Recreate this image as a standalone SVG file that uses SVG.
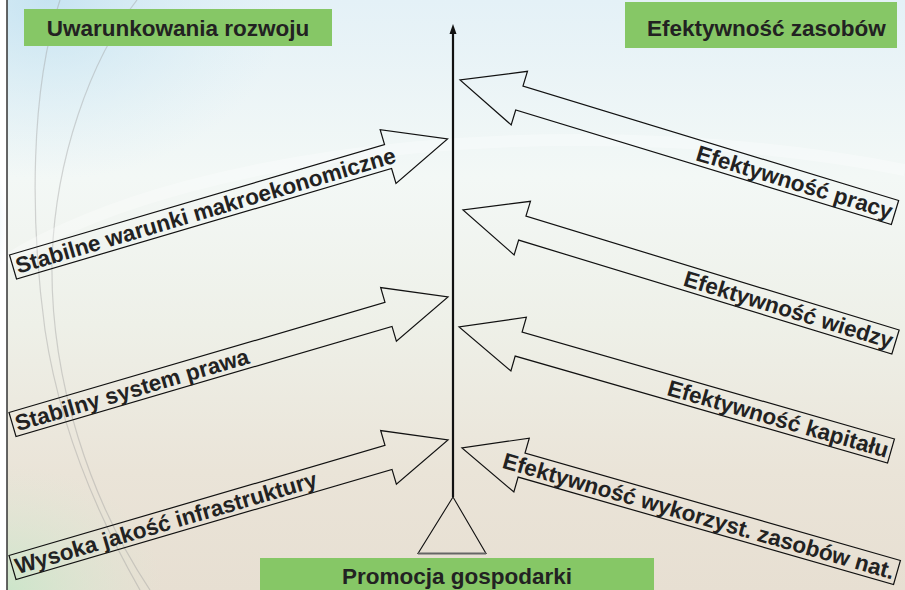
<svg xmlns="http://www.w3.org/2000/svg" width="905" height="590" viewBox="0 0 905 590">
  <defs>
    <linearGradient id="bgV" x1="0" y1="0" x2="0" y2="1">
      <stop offset="0" stop-color="#e4f1f7"/>
      <stop offset="0.3" stop-color="#f3f8f6"/>
      <stop offset="0.55" stop-color="#eef0e8"/>
      <stop offset="0.8" stop-color="#eae4d8"/>
      <stop offset="1" stop-color="#e7dfd2"/>
    </linearGradient>
    <radialGradient id="blueL" cx="0" cy="0.45" r="0.5" gradientUnits="objectBoundingBox">
      <stop offset="0" stop-color="#4da6d8" stop-opacity="0.95"/>
      <stop offset="0.5" stop-color="#7cc0e4" stop-opacity="0.5"/>
      <stop offset="1" stop-color="#9fd0ea" stop-opacity="0"/>
    </radialGradient>
    <radialGradient id="blueTop" cx="0.1" cy="0" r="0.6">
      <stop offset="0" stop-color="#bfe0f0" stop-opacity="0.8"/>
      <stop offset="1" stop-color="#d6ecf5" stop-opacity="0"/>
    </radialGradient>
    <radialGradient id="greenBL" cx="0" cy="1" r="0.6">
      <stop offset="0" stop-color="#c9e6c9" stop-opacity="0.9"/>
      <stop offset="1" stop-color="#dde9d6" stop-opacity="0"/>
    </radialGradient>
    <style>
      .box { fill: #86c766; }
      .title { font-family: "Liberation Sans", Arial, sans-serif; font-weight: bold; font-size: 22.5px; fill: #222222; }
      .lbl { font-family: "Liberation Sans", Arial, sans-serif; font-weight: bold; font-size: 22.5px; fill: #222222; }
      .arrow { fill: none; stroke: #111111; stroke-width: 1.2; stroke-linejoin: miter; }
      .arc { fill: none; stroke: #9a9a9a; stroke-opacity: 0.4; stroke-width: 1.2; }
    </style>
  </defs>

  <!-- background -->
  <g id="background">
    <rect x="0" y="0" width="905" height="590" fill="#ffffff"/>
    <rect x="7" y="0" width="898" height="590" fill="url(#bgV)"/>
    <rect x="7" y="0" width="400" height="300" fill="url(#blueTop)"/>
    <ellipse cx="7" cy="235" rx="80" ry="120" fill="url(#blueL)"/>
    <rect x="7" y="380" width="260" height="210" fill="url(#greenBL)"/>
    <path d="M 60,0 C 30,90 30,220 45,330 C 60,430 100,520 140,590" class="arc"/>
    <path d="M 137,0 C 90,60 55,160 52,260 C 50,380 90,500 150,590" class="arc" stroke-opacity="0.2"/>
    <path d="M 7,260 C 200,140 600,110 905,170" fill="none" stroke="#ffffff" stroke-opacity="0.3" stroke-width="12"/>
    <line x1="7" y1="0" x2="7" y2="590" stroke="#333333" stroke-width="1.5"/>
  </g>

  <!-- headers -->
  <g id="header-left">
    <rect class="box" x="24" y="9" width="308" height="37"/>
    <text class="title" x="178" y="36" text-anchor="middle">Uwarunkowania rozwoju</text>
  </g>
  <g id="header-right">
    <rect class="box" x="625" y="2" width="272" height="46"/>
    <text class="title" x="647" y="36">Efektywność zasobów</text>
  </g>
  <g id="footer">
    <rect class="box" x="260" y="558" width="394" height="32"/>
    <text class="title" x="342" y="584">Promocja gospodarki</text>
  </g>

  <!-- central axis -->
  <g id="axis">
    <line x1="453" y1="497" x2="453" y2="32" stroke="#111111" stroke-width="2.2"/>
    <polygon points="453,24 449.5,34 456.5,34" fill="#111111"/>
    <polygon points="453,497 418,553.5 486,553.5" fill="none" stroke="#111111" stroke-width="1.1"/>
    <line x1="418" y1="553.5" x2="486" y2="553.5" stroke="#666666" stroke-width="2"/>
  </g>

  <g id="connectors">
    <!-- left arrows -->
    <g id="arrow-makro" transform="translate(13,267) rotate(-16.41)">
      <polygon class="arrow" points="0,-12.5 391,-12.5 391,-28 453,0 391,28 391,12.5 0,12.5"/>
      <text class="lbl" x="3" y="8">Stabilne warunki makroekonomiczne</text>
    </g>
    <g id="arrow-prawo" transform="translate(12.5,424.5) rotate(-16.32)">
      <polygon class="arrow" points="0,-12.5 391.8,-12.5 391.8,-28 453.8,0 391.8,28 391.8,12.5 0,12.5"/>
      <text class="lbl" x="3" y="8">Stabilny system prawa</text>
    </g>
    <g id="arrow-infra" transform="translate(12.5,567.5) rotate(-16.32)">
      <polygon class="arrow" points="0,-12.5 391.8,-12.5 391.8,-28 453.8,0 391.8,28 391.8,12.5 0,12.5"/>
      <text class="lbl" x="3" y="8">Wysoka jakość infrastruktury</text>
    </g>

    <!-- right arrows -->
    <g id="arrow-praca" transform="translate(895,212.5) rotate(16.94)">
      <polygon class="arrow" points="0,-12.5 -392.7,-12.5 -392.7,-28 -454.7,0 -392.7,28 -392.7,12.5 0,12.5"/>
      <text class="lbl" x="-3" y="8" text-anchor="end">Efektywność pracy</text>
    </g>
    <g id="arrow-wiedza" transform="translate(895.5,342) rotate(16.97)">
      <polygon class="arrow" points="0,-12.5 -390.2,-12.5 -390.2,-28 -452.2,0 -390.2,28 -390.2,12.5 0,12.5"/>
      <text class="lbl" x="-3" y="8" text-anchor="end">Efektywność wiedzy</text>
    </g>
    <g id="arrow-kapital" transform="translate(891,451) rotate(16.02)">
      <polygon class="arrow" points="0,-12.5 -387.4,-12.5 -387.4,-28 -449.4,0 -387.4,28 -387.4,12.5 0,12.5"/>
      <text class="lbl" x="-3" y="8" text-anchor="end">Efektywność kapitału</text>
    </g>
    <g id="arrow-zasoby" transform="translate(897,572.5) rotate(15.97)">
      <polygon class="arrow" points="0,-12.5 -390.5,-12.5 -390.5,-28 -452.5,0 -390.5,28 -390.5,12.5 0,12.5"/>
      <text class="lbl" x="-3" y="8" text-anchor="end">Efektywność wykorzyst. zasobów nat.</text>
    </g>
  </g>
</svg>
